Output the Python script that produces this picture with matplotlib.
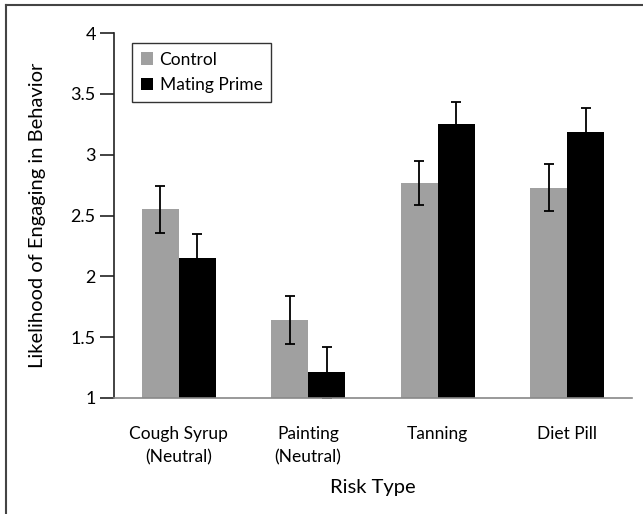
import numpy as np
import matplotlib.pyplot as plt
from matplotlib.lines import Line2D

plt.rcParams['font.family'] = ['Lato', 'DejaVu Sans']

# data
categories = ['Cough Syrup\n(Neutral)', 'Painting\n(Neutral)', 'Tanning', 'Diet Pill']
control = [2.55, 1.64, 2.77, 2.73]
control_err = [0.19, 0.20, 0.18, 0.19]
mating = [2.15, 1.21, 3.25, 3.19]
mating_err = [0.20, 0.21, 0.18, 0.19]
yticks = [1, 1.5, 2, 2.5, 3, 3.5, 4]
ytick_labels = ['1', '1.5', '2', '2.5', '3', '3.5', '4']

fig = plt.figure(figsize=(6.43, 5.14), dpi=100)
ax = fig.add_axes([0.177, 0.2257, 0.806, 0.710])

x = np.arange(len(categories))
w = 0.286
ebar = dict(ecolor='black', elinewidth=1.3, capsize=3.5, capthick=1.3)
ax.bar(x - w / 2, control, w, yerr=control_err, color='#a0a0a0',
       label='Control', error_kw=ebar)
ax.bar(x + w / 2, mating, w, yerr=mating_err, color='black',
       label='Mating Prime', error_kw=ebar)

ax.set_ylim(1, 4)
ax.set_xlim(-0.5, 3.5)
ax.set_yticks(yticks)
ax.set_yticklabels(ytick_labels, fontsize=13)
ax.set_xticks(x)
ax.set_xticklabels(categories, fontsize=12.5, linespacing=1.55)
ax.tick_params(axis='x', length=0, pad=20)
ax.tick_params(axis='y', length=10, width=1.2, color='#222222', pad=3)

for s in ['top', 'right']:
    ax.spines[s].set_visible(False)
ax.spines['left'].set_color('#222222')
ax.spines['left'].set_linewidth(1.2)
ax.spines['bottom'].set_color('#888888')
ax.spines['bottom'].set_linewidth(1.2)

ax.set_ylabel('Likelihood of Engaging in Behavior', fontsize=14.5, labelpad=18)
ax.set_xlabel('Risk Type', fontsize=14.5, labelpad=10)

leg = ax.legend(loc='upper left', bbox_to_anchor=(0.018, 0.997), fontsize=12.5,
                frameon=True, fancybox=False, edgecolor='black',
                handlelength=0.7, handleheight=0.7, handletextpad=0.4,
                labelspacing=0.55, borderpad=0.5)
leg.get_frame().set_linewidth(1.0)

# outer border (left and top visible in the reference)
fig.add_artist(Line2D([0.0095, 0.0095], [0, 0.99], transform=fig.transFigure,
                      color='#444444', lw=1.5))
fig.add_artist(Line2D([0.0095, 1.0], [0.99, 0.99], transform=fig.transFigure,
                      color='#444444', lw=1.5))

fig.savefig('out.png', dpi=100)
